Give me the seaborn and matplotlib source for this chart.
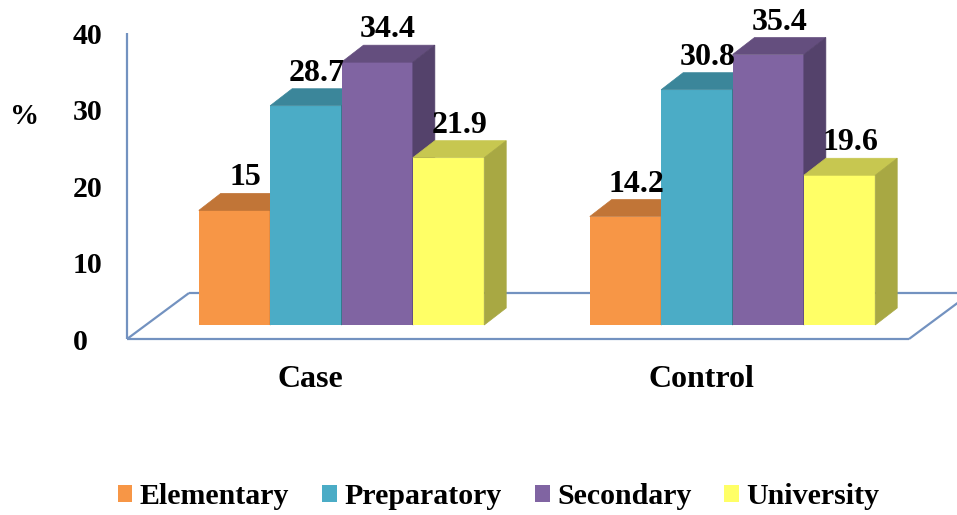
import numpy as np
import pandas as pd
import matplotlib
matplotlib.use("Agg")
import matplotlib.pyplot as plt
import seaborn as sns
from matplotlib.patches import Polygon
from matplotlib.colors import to_rgb

# ---- data -------------------------------------------------------------
groups = ["Case", "Control"]
levels = ["Elementary", "Preparatory", "Secondary", "University"]
case_pct = [15, 28.7, 34.4, 21.9]
control_pct = [14.2, 30.8, 35.4, 19.6]
y_ticks = [0, 10, 20, 30, 40]

front_colors = ["#F79646", "#4BACC6", "#8064A2", "#FFFF66"]
axis_color = "#7392C0"

df = pd.DataFrame({
    "group": np.repeat(groups, len(levels)),
    "level": levels * len(groups),
    "pct": case_pct + control_pct,
})
values_by_group = {"Case": case_pct, "Control": control_pct}

# ---- style ------------------------------------------------------------
sns.set_theme(style="white")
plt.rcParams["font.family"] = ["Liberation Serif", "DejaVu Serif"]
plt.rcParams["font.weight"] = "bold"
plt.rcParams["text.color"] = "black"

W, H, DPI = 957, 515, 100
fig = plt.figure(figsize=(W / DPI, H / DPI), dpi=DPI)
fig.patch.set_facecolor("white")

# plane of the bar fronts
ax = fig.add_axes([146 / W, (H - 325) / H, 782 / W, 305.6 / H])
sns.barplot(data=df, x="group", y="pct", hue="level", order=groups,
            hue_order=levels, palette=front_colors, saturation=1,
            width=0.73, linewidth=0, errorbar=None, ax=ax)
ax.set_xlim(-0.5, 1.5)
ax.set_ylim(0, 40)
ax.set_axis_off()

# pixel -> data conversion for the pseudo-3D depth
p0 = ax.transData.transform((0, 0))
p1 = ax.transData.transform((1, 1))
px_x, px_y = p1[0] - p0[0], p1[1] - p0[1]
ddx, ddy = 22 / px_x, 17 / px_y             # depth of each bar
fx, fy = -19 / px_x, -14 / px_y             # front plane of the floor
bx, by = 43 / px_x, 32 / px_y               # back plane of the floor


def shade(c, f):
    return tuple(v * f for v in to_rgb(c))


# top and side faces of every bar
for k, cont in enumerate(ax.containers):
    for j, bar in enumerate(cont):
        z = 2 + k
        bar.set_zorder(z)
        c = bar.get_facecolor()
        x0, w, h = bar.get_x(), bar.get_width(), bar.get_height()
        top = Polygon([(x0, h), (x0 + w, h), (x0 + w + ddx, h + ddy), (x0 + ddx, h + ddy)],
                      closed=True, fc=shade(c, 0.78), ec=shade(c, 0.78), lw=0.5,
                      zorder=z, clip_on=False)
        side = Polygon([(x0 + w, 0), (x0 + w + ddx, ddy), (x0 + w + ddx, h + ddy), (x0 + w, h)],
                       closed=True, fc=shade(c, 0.66), ec=shade(c, 0.66), lw=0.5,
                       zorder=z, clip_on=False)
        ax.add_patch(top)
        ax.add_patch(side)
        v = values_by_group[groups[j]][k]
        ax.text(x0 + w / 2 + ddx / 2, h + ddy + 8 / px_y, f"{v:g}",
                ha="center", va="baseline", fontsize=23, zorder=20, clip_on=False)

# floor outline and value axis
x_lo, x_hi = ax.get_xlim()
line_kw = dict(color=axis_color, lw=1.6, clip_on=False, zorder=0.5,
               solid_capstyle="butt")
ax.plot([x_lo + fx, x_hi + fx], [fy, fy], **line_kw)
ax.plot([x_lo + bx, x_hi + bx], [by, by], **line_kw)
ax.plot([x_lo + fx, x_lo + bx], [fy, by], **line_kw)
ax.plot([x_hi + fx, x_hi + bx], [fy, by], **line_kw)
ax.plot([x_lo + fx, x_lo + fx], [fy, y_ticks[-1] + fy], **line_kw)

for t in y_ticks:
    ax.text(x_lo + fx - 54 / px_x, t + fy, str(t), ha="left",
            va="center_baseline", fontsize=21.5, clip_on=False)

for i, g in enumerate(groups):
    ax.text(i + fx - 12 / px_x, fy - 37 / px_y, g, ha="center",
            va="center_baseline", fontsize=23, clip_on=False)

fig.text(25 / W, 1 - 117 / H, "%", ha="center", va="center", fontsize=21)

sns.move_legend(ax, "center", bbox_to_anchor=(0.521, 0.035),
                bbox_transform=fig.transFigure, ncol=4, frameon=False,
                title=None, handlelength=0.5, handleheight=0.5,
                handletextpad=0.25, columnspacing=1.1, fontsize=21.5)

fig.savefig("out.png", dpi=DPI, facecolor="white")
